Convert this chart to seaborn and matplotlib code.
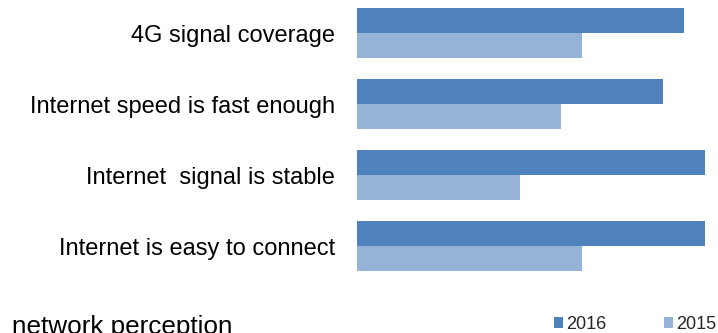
import matplotlib
matplotlib.use("Agg")
import matplotlib.pyplot as plt
import seaborn as sns
import pandas as pd
from matplotlib.patches import Patch

categories = ["4G signal coverage", "Internet speed is fast enough",
              "Internet  signal is stable", "Internet is easy to connect"]
values_2016 = [94.0, 87.9, 100.0, 100.0]
values_2015 = [64.7, 58.6, 46.8, 64.7]
series = ["2016", "2015"]
colors = {"2016": "#4F81BD", "2015": "#95B3D7"}
title = "network perception"

df = pd.DataFrame({
    "category": categories * 2,
    "value": values_2016 + values_2015,
    "year": ["2016"] * len(categories) + ["2015"] * len(categories),
})

sns.set_theme(style="white")
plt.rcParams["font.family"] = ["Liberation Sans", "DejaVu Sans"]

W, H = 718, 333
fig = plt.figure(figsize=(W / 100, H / 100), dpi=100)
left_px, right_px = 357, 705
top_px, bottom_px = 0, 281.5
ax = fig.add_axes([left_px / W, 1 - bottom_px / H, (right_px - left_px) / W, (bottom_px - top_px) / H])

sns.barplot(data=df, y="category", x="value", hue="year", hue_order=series,
            palette=colors, orient="h", width=0.704, ax=ax, legend=False,
            saturation=1, linewidth=0)

ax.set_xlim(0, 100)
ax.set_ylim(3.5, -0.465)
ax.set_xlabel("")
ax.set_ylabel("")
ax.set_xticks([])
for s in ax.spines.values():
    s.set_visible(False)
ax.tick_params(axis="y", length=0, pad=16, labelsize=17, labelcolor="#000000")

fig.text(12 / W, 1 - 334 / H, title, fontsize=18.8, ha="left", va="baseline", color="#000000")

handles = [Patch(facecolor=colors[s], edgecolor="none") for s in series]
fig.legend(handles, series, loc="center right", bbox_to_anchor=(716 / W, 1 - 324.5 / H),
           ncol=2, frameon=False, fontsize=13, handlelength=0.5, handleheight=0.5,
           handletextpad=0.17, columnspacing=3.2, borderaxespad=0, borderpad=0)

fig.savefig("out.png", dpi=100)
